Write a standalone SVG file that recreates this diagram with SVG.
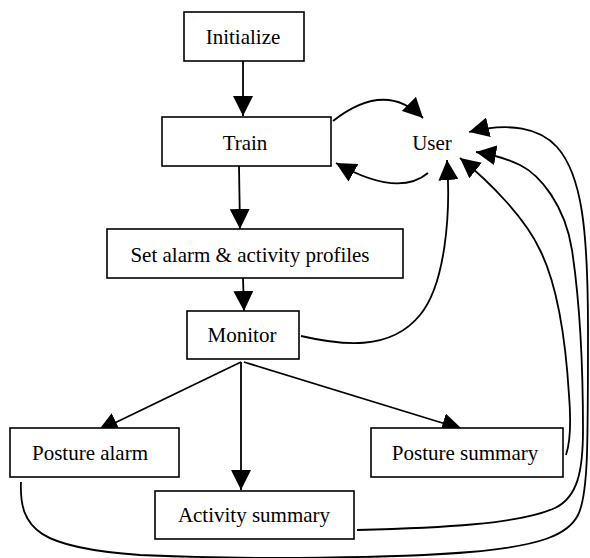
<svg xmlns="http://www.w3.org/2000/svg" width="590" height="558" viewBox="0 0 590 558">
<style>
.box{fill:#fff;stroke:#000;stroke-width:1.6}
.lbl{font-family:"Liberation Serif","Times New Roman",serif;font-size:21px;fill:#000;text-anchor:middle}
.c{fill:none;stroke:#000;stroke-width:1.8;marker-end:url(#ah)}
</style>
<defs>
<marker id="ah" markerUnits="userSpaceOnUse" markerWidth="20" markerHeight="20" refX="20" refY="10" orient="auto">
<path d="M0,0 L20,10 L0,20 Z" fill="#000"/>
</marker>
</defs>
<rect width="590" height="558" fill="#fff"/>
<g id="connectors">
<path class="c" d="M243,61 L243,116"/>
<path class="c" d="M239,166 L240,229"/>
<path class="c" d="M243,278 L244,311"/>
<path class="c" d="M333,121 Q385,80 423,118"/>
<path class="c" d="M428,173 Q398,198 336,163"/>
<path class="c" d="M301,336 C340,345 390,352 420,315 C445,285 451,215 447,160"/>
<path class="c" d="M241,362 L98,431"/>
<path class="c" d="M241,362 L241,490"/>
<path class="c" d="M244,362 L462,429"/>
<path class="c" d="M566,455 C571,440 571,420 569,395 C565,330 555,280 540,250 C525,218 490,182 460,158"/>
<path class="c" d="M357,530 C440,528 520,524 555,508 C578,497 583,470 583,430 C583,350 578,290 572,250 C565,205 540,175 520,165 C510,160 500,156 476,152"/>
<path class="c" d="M21,482 C19,530 40,548 140,555 C250,560 400,558 470,552 C540,546 568,535 578,515 C588,495 588,450 588,330 C588,230 582,175 557,147 C540,128 510,122 469,132"/>
</g>
<g id="initialize"><rect class="box" x="184" y="12" width="120" height="49"/><text class="lbl" x="243" y="44">Initialize</text></g>
<g id="train"><rect class="box" x="162" y="117" width="169" height="49"/><text class="lbl" x="245" y="150">Train</text></g>
<g id="user"><text class="lbl" x="432" y="150">User</text></g>
<g id="set-alarm"><rect class="box" x="107" y="229" width="296" height="49"/><text class="lbl" x="250" y="262">Set alarm &amp; activity profiles</text></g>
<g id="monitor"><rect class="box" x="187" y="311" width="112" height="48"/><text class="lbl" x="242" y="342">Monitor</text></g>
<g id="posture-alarm"><rect class="box" x="10" y="428" width="169" height="49"/><text class="lbl" x="90" y="460">Posture alarm</text></g>
<g id="activity-summary"><rect class="box" x="155" y="491" width="199" height="48"/><text class="lbl" x="254" y="522">Activity summary</text></g>
<g id="posture-summary"><rect class="box" x="371" y="428" width="192" height="49"/><text class="lbl" x="465" y="460">Posture summary</text></g>
</svg>
